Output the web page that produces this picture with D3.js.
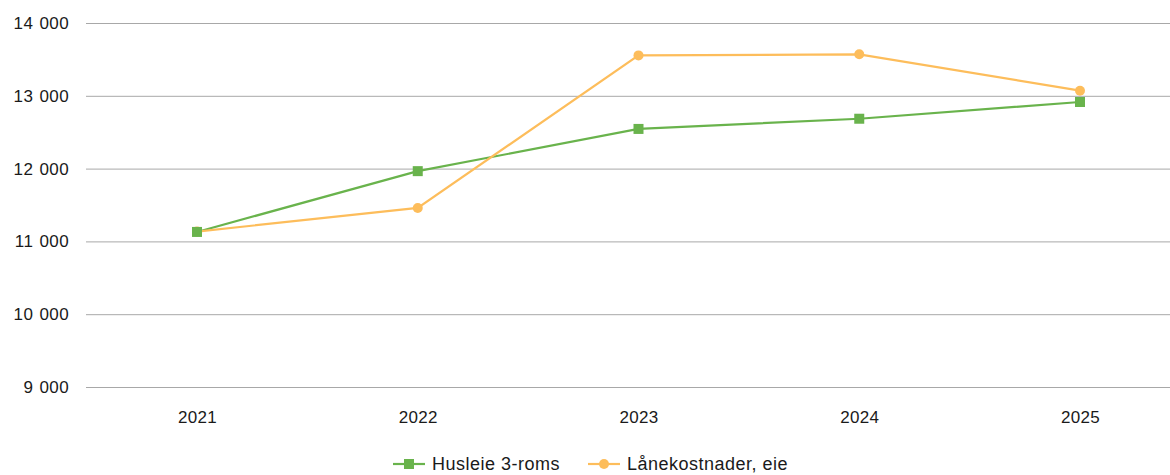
<!DOCTYPE html>
<html>
<head>
<meta charset="utf-8">
<script src="https://cdn.jsdelivr.net/npm/d3@7"></script>
<style>
  body { margin: 0; background: #fff; }
  text { font-family: "Liberation Sans", Arial, sans-serif; }
</style>
</head>
<body>
<svg id="chart"></svg>
<script>
// data
var years = ["2021", "2022", "2023", "2024", "2025"];
var husleie = [11130, 11965, 12545, 12685, 12915];
var laanekost = [11135, 11460, 13555, 13570, 13070];
var yTicks = [9000, 10000, 11000, 12000, 13000, 14000];
var seriesNames = ["Husleie 3-roms", "Lånekostnader, eie"];

var w = 1170, h = 475;
var green = "#69b34c", orange = "#fdbd5b";

var svg = d3.select("#chart").attr("width", w).attr("height", h);

var x = d3.scalePoint()
    .domain(years)
    .range([197, 1080]);

var y = d3.scaleLinear()
    .domain([9000, 14000])
    .range([387, 23]);

var fmt = function(d) { return d3.format(",")(d).replace(",", " "); };

// gridlines + y labels
var yAxis = svg.append("g")
    .attr("transform", "translate(86,0)")
    .call(d3.axisLeft(y).tickValues(yTicks).tickSize(-(w - 86)).tickFormat(fmt));
yAxis.select(".domain").remove();
yAxis.selectAll(".tick line").attr("stroke", "#a8a8a8").attr("stroke-width", 1);
yAxis.selectAll(".tick text")
    .attr("x", -17)
    .attr("fill", "#1a1a1a")
    .style("font-family", "'Liberation Sans', Arial, sans-serif")
    .style("font-size", "17px")
    .style("letter-spacing", "0.4px")
    .style("word-spacing", "1px");

// x labels
var xAxis = svg.append("g")
    .attr("transform", "translate(0,387)")
    .call(d3.axisBottom(x).tickSize(0).tickPadding(24));
xAxis.select(".domain").remove();
xAxis.selectAll(".tick text")
    .attr("fill", "#1a1a1a")
    .style("font-family", "'Liberation Sans', Arial, sans-serif")
    .style("font-size", "17px")
    .style("letter-spacing", "0.3px");

var line = d3.line()
    .x(function(d, i) { return x(years[i]); })
    .y(function(d) { return y(d); });

function drawSeries(values, color) {
    svg.append("path")
        .datum(values)
        .attr("d", line)
        .attr("fill", "none")
        .attr("stroke", color)
        .attr("stroke-width", 2.2);
}

drawSeries(husleie, green);
drawSeries(laanekost, orange);

// markers
svg.selectAll(".dot")
    .data(laanekost)
    .enter().append("circle")
    .attr("cx", function(d, i) { return x(years[i]); })
    .attr("cy", function(d) { return y(d); })
    .attr("r", 5)
    .attr("fill", orange);

svg.selectAll(".sq")
    .data(husleie)
    .enter().append("rect")
    .attr("x", function(d, i) { return x(years[i]) - 5; })
    .attr("y", function(d) { return y(d) - 5; })
    .attr("width", 10)
    .attr("height", 10)
    .attr("fill", green);

// legend
var legend = svg.append("g").attr("transform", "translate(0,464)");
var legendX = [393, 588];
seriesNames.forEach(function(name, i) {
    var color = i === 0 ? green : orange;
    var g = legend.append("g").attr("transform", "translate(" + legendX[i] + ",0)");
    g.append("line")
        .attr("x1", 0).attr("x2", 32)
        .attr("stroke", color).attr("stroke-width", 2.2);
    if (i === 0) {
        g.append("rect").attr("x", 11).attr("y", -5).attr("width", 10).attr("height", 10).attr("fill", color);
    } else {
        g.append("circle").attr("cx", 16).attr("r", 5).attr("fill", color);
    }
    g.append("text")
        .attr("x", 39)
        .attr("dy", "0.35em")
        .attr("fill", "#1a1a1a")
        .style("font-size", "18px")
        .style("letter-spacing", "0.5px")
        .text(name);
});
</script>
</body>
</html>
